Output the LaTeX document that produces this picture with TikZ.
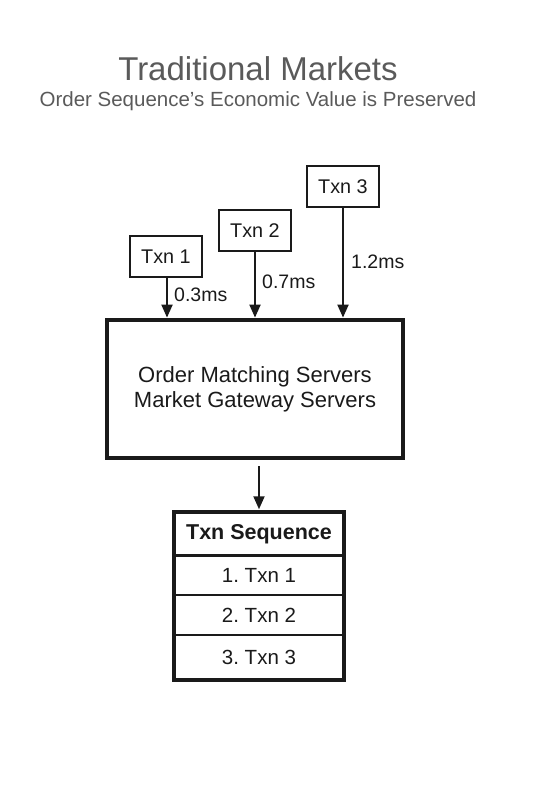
\documentclass[tikz,border=0pt]{standalone}
\usepackage{fontspec}
\setmainfont{Liberation Sans}
\usetikzlibrary{arrows.meta}
\definecolor{titlegray}{HTML}{5A5A5A}
\definecolor{ink}{HTML}{1A1A1A}
\frenchspacing
\begin{document}
\begin{tikzpicture}[x=1pt,y=-1pt,
  txnbox/.style={draw=ink,line width=2pt,minimum width=72pt,minimum height=41pt,inner sep=0pt,font=\fontsize{19.8}{22}\selectfont,text=ink},
  mainbox/.style={draw=ink,line width=4.8pt,minimum width=296pt,minimum height=138pt,inner sep=0pt,align=center,font=\fontsize{22}{25}\selectfont,text=ink},
  rowbox/.style={draw=ink,line width=1.5pt,minimum width=168pt,minimum height=40pt,inner sep=0pt,font=\fontsize{20.5}{24}\selectfont,text=ink},
  flow/.style={draw=ink,line width=2pt,-{Triangle[length=13pt,width=11pt]}},
  lbl/.style={font=\fontsize{19.5}{22}\selectfont,text=ink,anchor=west,inner sep=0pt}
]
\useasboundingbox (0,0) rectangle (545,804);
\node[text=titlegray,font=\fontsize{33}{38}\selectfont] (title) at (258,69) {Traditional Markets};
\node[text=titlegray,font=\fontsize{20.5}{24}\selectfont] (sub) at (258,101) {Order Sequence’s Economic Value is Preserved};

\node[txnbox] (t1) at (166,256.5) {Txn 1};
\node[txnbox] (t2) at (255,230.5) {Txn 2};
\node[txnbox] (t3) at (343,186.5) {Txn 3};

\node[mainbox] (main) at (255,389) {Order Matching Servers\\Market Gateway Servers};

\draw[flow] (t1.south -| 167,0) -- (167,0 |- main.north);
\draw[flow] (t2.south) -- (t2.south |- main.north);
\draw[flow] (t3.south) -- (t3.south |- main.north);

\node[lbl] (l1) at (174,295) {0.3ms};
\node[lbl] (l2) at (262,282) {0.7ms};
\node[lbl] (l3) at (351,262) {1.2ms};

\node[rowbox,minimum height=42pt,font=\bfseries\fontsize{21.5}{24}\selectfont] (hdr) at (259,534) {Txn Sequence};
\node[rowbox] (r1) at (259,575) {1. Txn 1};
\node[rowbox] (r2) at (259,615) {2. Txn 2};
\node[rowbox,minimum height=44pt] (r3) at (259,657) {3. Txn 3};
\draw[ink,line width=3pt] (hdr.south west) -- (hdr.south east);
\draw[ink,line width=4.2pt] (hdr.north west) rectangle (r3.south east);

\draw[flow] ([yshift=-6pt]main.south -| hdr.north) -- ([yshift=3pt]hdr.north);
\end{tikzpicture}
\end{document}
